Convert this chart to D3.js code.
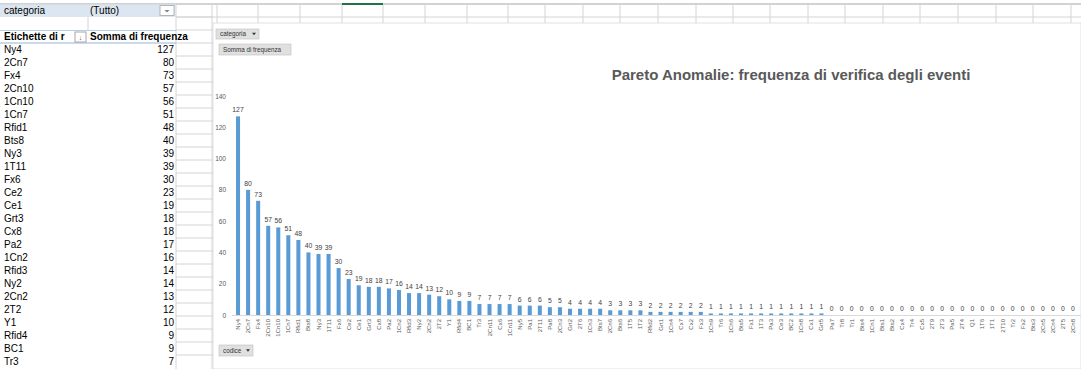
<!DOCTYPE html>
<html>
<head>
<meta charset="utf-8">
<script src="https://cdn.jsdelivr.net/npm/d3@7"></script>
<style>
  body { margin: 0; background: #fff; overflow: hidden; }
  svg { display: block; }
  text { -webkit-font-smoothing: antialiased; }
</style>
</head>
<body>
<script>
// categories (codice) and series (Somma di frequenza)
const codes = ["Ny4","2Cn7","Fx4","2Cn10","1Cn10","1Cn7","Rfid1","Bts8","Ny3","1T11",
  "Fx6","Ce2","Ce1","Grt3","Cx8","Pa2","1Cn2","Rfid3","Ny2","2Cn2",
  "2T2","Y1","Rfid4","BC1","Tr3","2Cn11","Cx6","1Cn11","Ny5","Pa1",
  "2T11","Pa8","2Cn3","Grt2","2T6","1Cn3","Bts7","2Cn6","Bts6","1T5",
  "1T2","Rfid2","Grt1","1Cn4","Cx7","Cx2","Fx3","1Cn9","Tr6","1Cn6",
  "Bts5","Fx1","1T3","Pa3","Ce3","BC2","1Cn8","Cx1","Grt5","Pa7",
  "Tr8","Tr1","Bts4","1Cn1","Bts1","Bts2","Cx4","Tr4","Cx5","2T9",
  "2T3","Pa5","2T4","Q1","1T6","1T1","2T10","Tr2","Fx2","Bts3",
  "2Cn5","2Cn4","2T5","2Cn8"];
const freq = [127,80,73,57,56,51,48,40,39,39,
  30,23,19,18,18,17,16,14,14,13,
  12,10,9,9,7,7,7,7,6,6,
  6,5,5,4,4,4,4,3,3,3,
  3,2,2,2,2,2,2,1,1,1,
  1,1,1,1,1,1,1,1,1,0,
  0,0,0,0,0,0,0,0,0,0,
  0,0,0,0,0,0,0,0,0,0,
  0,0,0,0];
const yTicks = [0,20,40,60,80,100,120,140];
const title = "Pareto Anomalie: frequenza di verifica degli eventi";

const W = 1081, H = 369;
const svg = d3.select("body").append("svg").attr("width", W).attr("height", H);

// ---------- spreadsheet background ----------
const rowH = 13, top0 = 4;
const grid = svg.append("g");
// top header border
grid.append("line").attr("x1", 0).attr("x2", W).attr("y1", top0).attr("y2", top0)
  .attr("stroke", "#a6a6a6").attr("stroke-width", 1.2);
// column lines above chart
const colX = [217,258,300,342,383,425,467,508,545,583,620,658,696,733,770,808,845,883,920,958,996,1033,1071];
colX.forEach(x => grid.append("line").attr("x1", x).attr("x2", x).attr("y1", top0).attr("y2", 23)
  .attr("stroke", "#d4d4d4"));
grid.append("line").attr("x1", 176).attr("x2", W).attr("y1", top0 + rowH).attr("y2", top0 + rowH)
  .attr("stroke", "#d4d4d4");
grid.append("line").attr("x1", 342).attr("x2", 383).attr("y1", top0).attr("y2", top0)
  .attr("stroke", "#217346").attr("stroke-width", 2);

// column C cells (x 176..212)
for (let r = 0; r < 28; r++) {
  grid.append("line").attr("x1", 176).attr("x2", 213)
    .attr("y1", top0 + r * rowH).attr("y2", top0 + r * rowH).attr("stroke", "#d4d4d4");
}
grid.append("line").attr("x1", 176).attr("x2", 176).attr("y1", top0).attr("y2", H).attr("stroke", "#d4d4d4");
grid.append("line").attr("x1", 212).attr("x2", 212).attr("y1", top0).attr("y2", H).attr("stroke", "#d4d4d4");
grid.append("line").attr("x1", 88).attr("x2", 88).attr("y1", top0 + rowH).attr("y2", top0 + 2 * rowH).attr("stroke", "#d4d4d4");

// row 1: report filter
grid.append("rect").attr("x", 0).attr("y", top0 + 0.5).attr("width", 176).attr("height", rowH - 0.5)
  .attr("fill", "#dce6f1");
grid.append("rect").attr("x", 160).attr("y", top0 + 1.5).attr("width", 14).attr("height", rowH - 3)
  .attr("fill", "#fff").attr("stroke", "#b4b4b4");
grid.append("path").attr("d", "M164.5,10 L169.5,10 L167,12.5 Z").attr("fill", "#7f7f7f");

const tfont = "'Liberation Sans', Arial, sans-serif";
function cell(x, r, txt, opts = {}) {
  grid.append("text").attr("x", x).attr("y", top0 + r * rowH + 10)
    .attr("font-family", tfont).attr("font-size", 10)
    .attr("font-weight", opts.bold ? "bold" : "normal")
    .attr("text-anchor", opts.anchor || "start")
    .attr("fill", "#000").text(txt);
}
cell(4, 0, "categoria");
cell(90, 0, "(Tutto)");

// header row
grid.append("line").attr("x1", 0).attr("x2", 176).attr("y1", top0 + 2 * rowH + 0.5).attr("y2", top0 + 2 * rowH + 0.5)
  .attr("stroke", "#b8cce4");
grid.append("line").attr("x1", 0).attr("x2", 176).attr("y1", top0 + 3 * rowH).attr("y2", top0 + 3 * rowH)
  .attr("stroke", "#95b3d7");
cell(4, 2, "Etichette di r", { bold: true });
grid.append("rect").attr("x", 75).attr("y", top0 + 2 * rowH + 2).attr("width", 11).attr("height", 10)
  .attr("fill", "#fff").attr("stroke", "#a6a6a6");
grid.append("text").attr("x", 80.5).attr("y", top0 + 2 * rowH + 10).attr("font-size", 7)
  .attr("text-anchor", "middle").attr("fill", "#555").attr("font-family", tfont).text("↓");
cell(90, 2, "Somma di frequenza", { bold: true });

codes.slice(0, 26).forEach((c, i) => {
  cell(4, 3 + i, c);
  cell(174, 3 + i, freq[i], { anchor: "end" });
});

// ---------- chart object ----------
const chart = svg.append("g");
chart.append("rect").attr("x", 213).attr("y", 23).attr("width", W - 213).attr("height", H - 23)
  .attr("fill", "#fff").attr("stroke", "#d9d9d9").attr("stroke-width", 0.8);

const cfont = "'Liberation Sans', Arial, sans-serif";

function button(x, y, w, h, txt, arrow) {
  const g = chart.append("g");
  g.append("rect").attr("x", x).attr("y", y).attr("width", w).attr("height", h)
    .attr("fill", "#e0e0e0").attr("stroke", "#c0c0c0").attr("stroke-width", 0.6);
  g.append("text").attr("x", x + 4).attr("y", y + h / 2 + 2.2).attr("font-family", cfont)
    .attr("font-size", 6.3).attr("fill", "#333").text(txt);
  if (arrow) {
    const ax = x + w - 7, ay = y + h / 2 - 1.2;
    g.append("path").attr("d", `M${ax},${ay} L${ax + 4},${ay} L${ax + 2},${ay + 2.5} Z`).attr("fill", "#333");
  }
}
button(216, 29, 43, 10, "categoria", true);
button(219, 44, 72, 11, "Somma di frequenza", false);
button(219, 345, 34, 11, "codice", true);

// title
chart.append("text").attr("x", 791).attr("y", 80).attr("text-anchor", "middle")
  .attr("font-family", cfont).attr("font-weight", "bold").attr("font-size", 15)
  .attr("fill", "#595959").text(title);

// scales
const x = d3.scaleBand().domain(codes).range([233, 1078]).paddingInner(0.6).paddingOuter(0.3);
const y = d3.scaleLinear().domain([0, 140]).range([315, 96]);

// y axis labels
const yAxis = chart.append("g").attr("transform", "translate(226,0)")
  .call(d3.axisLeft(y).tickValues(yTicks).tickSize(0).tickPadding(0));
yAxis.select(".domain").remove();
yAxis.selectAll("text").attr("font-family", cfont).attr("font-size", 6.5).attr("fill", "#595959");

// x axis
const xAxis = chart.append("g").attr("transform", `translate(0,${y(0)})`)
  .call(d3.axisBottom(x).tickSize(0).tickPadding(0));
xAxis.select(".domain").attr("stroke", "#d9d9d9").attr("stroke-width", 1.2)
  .attr("d", `M232,0.5H${W}`);
xAxis.selectAll("text")
  .attr("font-family", cfont).attr("font-size", 6).attr("fill", "#595959")
  .attr("text-anchor", "end").attr("dy", null)
  .attr("transform", "translate(2,4) rotate(-90)");

// bars
chart.append("g").selectAll("rect").data(codes).join("rect")
  .attr("x", d => x(d))
  .attr("y", (d, i) => y(freq[i]))
  .attr("width", x.bandwidth())
  .attr("height", (d, i) => y(0) - y(freq[i]))
  .attr("fill", "#5b9bd5");

// data labels
chart.append("g").selectAll("text").data(codes).join("text")
  .attr("x", d => x(d) + x.bandwidth() / 2)
  .attr("y", (d, i) => y(freq[i]) - 4)
  .attr("text-anchor", "middle")
  .attr("font-family", cfont).attr("font-size", 6.8).attr("fill", "#404040")
  .text((d, i) => freq[i]);
</script>
</body>
</html>
